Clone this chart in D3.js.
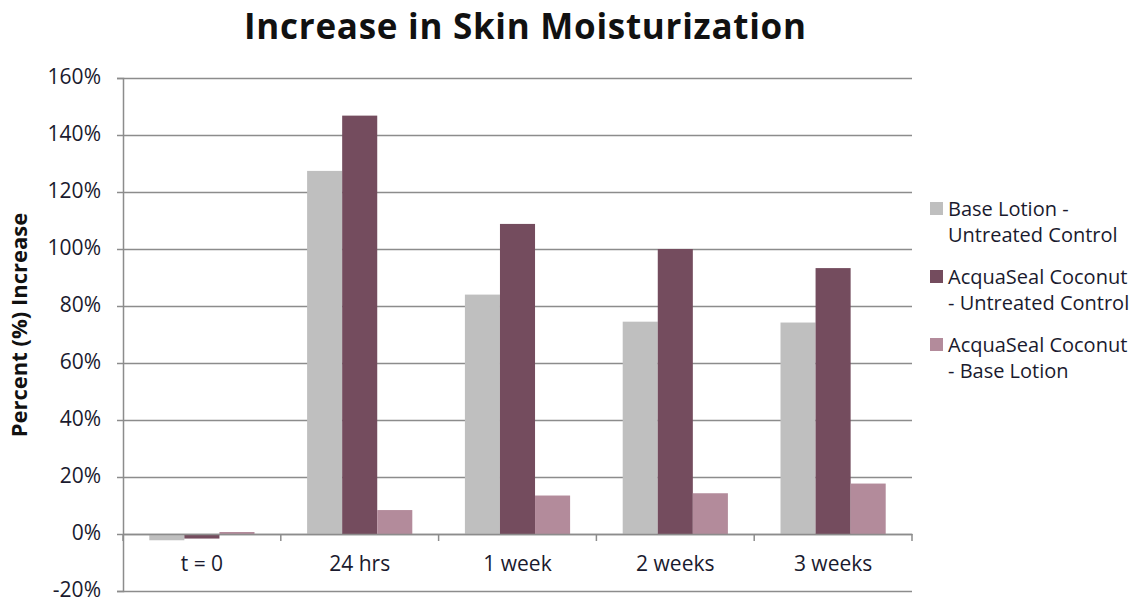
<!DOCTYPE html>
<html>
<head>
<meta charset="utf-8">
<script src="https://cdn.jsdelivr.net/npm/d3@7"></script>
<style>
  body { margin: 0; background: #fff; }
  svg { display: block; }
</style>
</head>
<body>
<svg id="chart" width="1146" height="600"></svg>
<script>
// values
var categories = ["t = 0", "24 hrs", "1 week", "2 weeks", "3 weeks"];
var seriesNames = [
  ["Base Lotion -", "Untreated Control"],
  ["AcquaSeal Coconut", "- Untreated Control"],
  ["AcquaSeal Coconut", "- Base Lotion"]
];
var baseVsControl = [-0.022, 1.274, 0.840, 0.745, 0.742];
var coconutVsControl = [-0.016, 1.468, 1.088, 1.000, 0.933];
var coconutVsBase = [0.007, 0.084, 0.135, 0.143, 0.177];
var yTicks = [-0.2, 0, 0.2, 0.4, 0.6, 0.8, 1.0, 1.2, 1.4, 1.6];
var colors = ["#bfbfbf", "#744c5e", "#b38b9b"];

var series = [baseVsControl, coconutVsControl, coconutVsBase];
var font = "'Open Sans', sans-serif";
var textColor = "#1a1a2e";

var svg = d3.select("#chart");
var plotLeft = 123, plotRight = 912, plotTop = 78, plotBottom = 591;

var x = d3.scaleBand().domain(categories).range([plotLeft, plotRight]).paddingInner(0).paddingOuter(0);
var y = d3.scaleLinear().domain([-0.2, 1.6]).range([plotBottom, plotTop]);

// gap width 150% of one bar, as in the spreadsheet original
var barW = x.bandwidth() / (series.length + 1.5);
var x1 = d3.scaleBand().domain(d3.range(series.length))
  .range([0, barW * series.length]);

// title
svg.append("text")
  .text("Increase in Skin Moisturization")
  .attr("x", 525).attr("y", 39)
  .attr("text-anchor", "middle")
  .attr("textLength", 562)
  .style("font-family", font)
  .style("font-weight", "bold")
  .style("font-size", "35px")
  .style("fill", "#111");

// gridlines
svg.append("g").selectAll("line").data(yTicks).join("line")
  .attr("x1", plotLeft).attr("x2", plotRight)
  .attr("y1", function(d) { return Math.round(y(d)) + 0.5; })
  .attr("y2", function(d) { return Math.round(y(d)) + 0.5; })
  .attr("stroke", "#8c8c8c").attr("stroke-width", 1.5);

// y axis
var pct = d3.format(".0%");
var yAxis = d3.axisLeft(y).tickValues(yTicks).tickSize(6).tickPadding(16)
  .tickFormat(function(d) { return pct(d).replace("\u2212", "-"); });
var gy = svg.append("g").attr("transform", "translate(" + plotLeft + ",0)").call(yAxis);
gy.select(".domain").attr("stroke", "#8c8c8c").attr("stroke-width", 1.5);
gy.selectAll(".tick line").attr("stroke", "#8c8c8c").attr("stroke-width", 1.5);
gy.selectAll(".tick text")
  .attr("dy", "0.28em")
  .style("font-family", font).style("font-size", "21px").style("fill", textColor);

// bars
var groups = svg.append("g").selectAll("g").data(categories).join("g")
  .attr("transform", function(d) { return "translate(" + (x(d) + barW * 0.75) + ",0)"; });

groups.selectAll("rect")
  .data(function(d, i) { return series.map(function(s, k) { return { k: k, v: s[i] }; }); })
  .join("rect")
  .attr("x", function(d) { return x1(d.k); })
  .attr("width", x1.bandwidth())
  .attr("y", function(d) { return y(Math.max(0, d.v)); })
  .attr("height", function(d) { return Math.abs(y(d.v) - y(0)); })
  .attr("fill", function(d) { return colors[d.k]; });

// x axis along zero
var xAxis = d3.axisBottom(x).tickSize(0).tickPadding(22);
var gx = svg.append("g").attr("transform", "translate(0," + y(0) + ")").call(xAxis);
gx.select(".domain").attr("stroke", "#8c8c8c").attr("stroke-width", 1.5);
gx.selectAll(".tick text")
  .style("font-family", font).style("font-size", "21px").style("fill", textColor);

var bounds = categories.map(function(c) { return x(c); }).concat([plotRight]);
gx.selectAll("line.sep").data(bounds).join("line")
  .attr("class", "sep")
  .attr("x1", function(d) { return d; }).attr("x2", function(d) { return d; })
  .attr("y1", 0).attr("y2", 7)
  .attr("stroke", "#8c8c8c").attr("stroke-width", 1.5);

// y axis label
svg.append("text")
  .text("Percent (%) Increase")
  .attr("transform", "translate(27,325) rotate(-90)")
  .attr("text-anchor", "middle")
  .style("font-family", font)
  .style("font-weight", "bold")
  .style("font-size", "22px")
  .style("fill", "#111");

// legend
var legend = svg.append("g").attr("transform", "translate(930,199)");
var item = legend.selectAll("g").data(seriesNames).join("g")
  .attr("transform", function(d, i) { return "translate(0," + i * 68 + ")"; });
item.append("rect")
  .attr("x", 0).attr("y", 3).attr("width", 13).attr("height", 13)
  .attr("fill", function(d, i) { return colors[i]; });
item.append("text")
  .attr("x", 18).attr("y", 17)
  .style("font-family", font).style("font-size", "20px").style("fill", textColor)
  .selectAll("tspan").data(function(d) { return d; }).join("tspan")
  .attr("x", 18).attr("dy", function(d, i) { return i ? 26 : 0; })
  .text(function(d) { return d; });
</script>
</body>
</html>
